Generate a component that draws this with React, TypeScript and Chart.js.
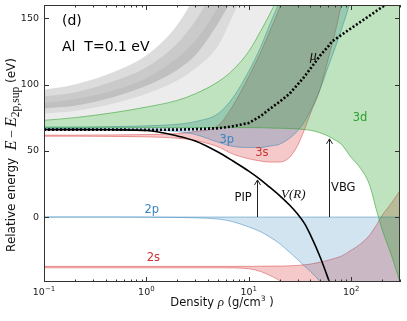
import React, { useEffect, useRef } from "react";
import { Chart, registerables } from "chart.js";

Chart.register(...registerables);

// ---------- data (density grid in g/cm^3, energies in eV) ----------
const RHO = [0.1, 0.2, 0.5, 1, 2, 3, 5, 7, 10, 13, 16, 20, 25, 30, 35, 40, 50, 60, 70, 80, 100, 120, 150, 180, 200, 250, 300];

const S2_LO = [-38.3, -38.3, -38.3, -38.3, -38.3, -38.3, -38.3, -38.4, -39, -41, -44, -48, -55, -62, -69, -76, -88, -100, -110, -120, -135, -150, -165, -180, -190, -205, -220];
const S2_HI = [-37.2, -37.2, -37.2, -37.2, -37.2, -37.2, -37.2, -37.2, -37.2, -37.1, -37, -37, -36.8, -36.5, -36, -35.5, -34, -32.5, -31, -29.5, -25, -21, -14, -5, 1, 11, 20];

const P2_LO = [0, 0, 0, -0.1, -0.3, -0.6, -1.5, -3.5, -7.5, -11, -15, -20, -26.5, -32, -37, -41, -49, -58, -66, -74, -88, -100, -115, -130, -140, -160, -180];
const P2_HI = [0, 0, 0, 0, 0, 0, 0, 0, 0, 0, 0, 0, 0, 0, 0, 0, 0, 0, 0, 0, 0, 0, 0, 0, 0, 0, 0];

const S3_LO = [61, 61, 60.8, 60.5, 59.5, 57.8, 53, 47.5, 44, 42.3, 41.5, 41.5, 45, 54, 66, 78, 97, 120, 140, 160, 195, 230, 270, 300, 320, 360, 400];
const S3_HI = [61.8, 61.8, 62, 62.3, 63, 64.5, 69, 84, 106, 124, 140, 158, 178, 195, 210, 225, 250, 275, 300, 320, 350, 380, 420, 450, 470, 500, 530];

const P3_LO = [66.5, 66.5, 66.4, 66, 64.5, 62.3, 56.5, 53.3, 52.5, 52.5, 53.5, 55, 59.5, 65, 72, 80, 97, 114, 128, 141, 165, 190, 220, 250, 270, 300, 330];
const P3_HI = [68, 68, 68.3, 68.8, 70, 72, 78, 90, 110, 128, 145, 163, 182, 200, 215, 230, 255, 280, 300, 320, 350, 380, 420, 450, 470, 500, 530];

const D3_LO = [67.5, 67.5, 67.5, 67.5, 67.5, 67.5, 67.5, 67.5, 67.5, 67.4, 67.2, 67, 66.8, 66.5, 66, 65.5, 63.5, 61, 58, 55, 45, 38, 25, 3, -9, -30, -49];
const D3_HI = [73, 75, 79, 83, 88, 93, 102, 111, 125, 140, 153, 168, 185, 200, 215, 230, 255, 280, 300, 320, 350, 380, 420, 450, 470, 500, 530];

// higher (grey) bands
const GA = [96, 100, 110, 122, 145, 168, 210, 240, 280, 310, 340, 370, 400, 430, 450, 470, 500, 530, 560, 590, 620, 650, 680, 710, 740, 770, 800];
const GB = [91, 94, 103, 113, 131, 148, 178, 205, 240, 270, 300, 330, 360, 390, 410, 430, 460, 490, 520, 550, 580, 610, 640, 670, 700, 730, 760];
const GC = [86, 89, 96, 105, 120, 133, 158, 178, 205, 230, 255, 280, 310, 340, 360, 380, 410, 440, 470, 500, 530, 560, 590, 620, 650, 680, 710];
const GD = [82, 84, 91, 99, 111, 122, 146, 166, 190, 215, 240, 265, 290, 315, 335, 355, 385, 415, 445, 475, 505, 535, 565, 595, 625, 655, 685];
const GE = [78, 80, 86, 93, 103, 112, 129, 152, 178, 200, 220, 242, 265, 290, 310, 330, 360, 390, 420, 450, 480, 510, 540, 570, 600, 630, 660];

// ion-sphere potential V(R) and chemical potential mu
const V_RHO = [0.1, 0.2, 0.5, 1, 2, 3, 5, 7, 10, 13, 16, 20, 25, 30, 35, 40, 50, 60, 70];
const V_R = [66, 66, 65.8, 65.3, 61.2, 57.4, 49.1, 42.3, 34.7, 28.3, 22.5, 16.2, 9.1, 2.3, -4.8, -13.5, -30.5, -47, -62];
const MU_RHO = [0.1, 0.2, 0.5, 1, 2, 3, 5, 7, 10, 13, 16, 20, 25, 30, 35, 40, 50, 60, 65, 80, 100, 150, 200, 300];
const MU = [66, 66, 66, 65.8, 66, 66.3, 67, 68.5, 71, 76, 81.5, 87, 93, 100, 106, 112, 122, 129, 132.5, 137.3, 142.4, 151.7, 158.4, 167.7];

// axes
const X_MIN = 0.1, X_MAX = 300, Y_MIN = -49, Y_MAX = 160;
const Y_TICKS = [0, 50, 100, 150];
const X_MAJOR = [0.1, 1, 10, 100];
const X_EXP = ["\u22121", "0", "1", "2"];

// arrows
const PIP_RHO = 12, PIP_TOP = 28;
const VBG_RHO = 61, VBG_TOP = 59;

const SANS = '"DejaVu Sans", sans-serif';
const SERIF = '"Liberation Serif", serif';

const RED = "rgba(214,39,40,";
const BLUE = "rgba(31,119,180,";
const GREEN = "rgba(44,160,44,";
const GREY = "rgba(110,110,110,";

const LABELS = [
  { t: "3d", rho: 122, e: 74.5, c: "#2ca02c" },
  { t: "3p", rho: 6.1, e: 58.1, c: "#3a84c0" },
  { t: "3s", rho: 13.4, e: 48.1, c: "#c83232" },
  { t: "2p", rho: 1.13, e: 5.3, c: "#3a84c0" },
  { t: "2s", rho: 1.17, e: -31.1, c: "#c83232" },
  { t: "PIP", rho: 8.8, e: 14.2, c: "#111" },
  { t: "VBG", rho: 83.8, e: 21.7, c: "#111" },
];

function pts(xs: number[], ys: number[]) {
  return xs.map((x, i) => ({ x, y: ys[i] }));
}

function band(lo: number[], hi: number[], edge: string, fillColor: string, order: number, bw = 0.8) {
  const common = {
    borderColor: edge,
    borderWidth: bw,
    backgroundColor: fillColor,
    pointRadius: 0,
    cubicInterpolationMode: "monotone" as const,
    order,
  };
  return [
    { ...common, data: pts(RHO, lo), fill: false },
    { ...common, data: pts(RHO, hi), fill: "-1" },
  ];
}

const overlay = {
  id: "overlay",
  afterDraw(chart: any) {
    const { ctx, chartArea: a, scales } = chart;
    const X = (v: number) => scales.x.getPixelForValue(v);
    const Y = (v: number) => scales.y.getPixelForValue(v);
    ctx.save();

    const arrow = (rho: number, top: number) => {
      const px = Math.round(X(rho)) + 0.5;
      const y0 = Y(0), y1 = Y(top);
      ctx.strokeStyle = "#222";
      ctx.lineWidth = 1;
      ctx.beginPath();
      ctx.moveTo(px, y0);
      ctx.lineTo(px, y1);
      ctx.stroke();
      ctx.beginPath();
      ctx.moveTo(px - 3, y1 + 5);
      ctx.lineTo(px, y1);
      ctx.lineTo(px + 3, y1 + 5);
      ctx.stroke();
    };
    arrow(PIP_RHO, PIP_TOP);
    arrow(VBG_RHO, VBG_TOP);

    ctx.textBaseline = "middle";
    ctx.textAlign = "center";
    for (const L of LABELS) {
      ctx.font = `11.5px ${SANS}`;
      ctx.fillStyle = L.c;
      ctx.fillText(L.t, X(L.rho), Y(L.e));
    }
    ctx.fillStyle = "#111";
    ctx.font = `italic 13px ${SERIF}`;
    ctx.fillText("V(R)", X(27.2), Y(16.6));
    ctx.font = `italic 14px ${SERIF}`;
    ctx.fillText("\u03bc", X(42.7), Y(121.5));

    ctx.textAlign = "left";
    ctx.font = `14px ${SANS}`;
    ctx.fillStyle = "#000";
    ctx.fillText("(d)", a.left + 18, a.top + 16.5);
    ctx.fillText("Al  T=0.1 eV", a.left + 18, a.top + 42.5);

    ctx.strokeStyle = "#333";
    ctx.lineWidth = 1;
    ctx.strokeRect(a.left + 0.5, a.top + 0.5, a.right - a.left - 1, a.bottom - a.top - 1);

    ctx.beginPath();
    for (const v of Y_TICKS) {
      const py = Math.round(Y(v)) + 0.5;
      ctx.moveTo(a.left, py); ctx.lineTo(a.left + 5, py);
      ctx.moveTo(a.right, py); ctx.lineTo(a.right - 5, py);
    }
    for (const v of X_MAJOR) {
      const px = Math.round(X(v)) + 0.5;
      ctx.moveTo(px, a.bottom); ctx.lineTo(px, a.bottom - 5);
      ctx.moveTo(px, a.top); ctx.lineTo(px, a.top + 5);
    }
    for (let d = -1; d <= 2; d++) {
      for (let k = 2; k <= 9; k++) {
        const v = k * Math.pow(10, d);
        if (v > X_MAX) continue;
        const px = Math.round(X(v)) + 0.5;
        ctx.moveTo(px, a.bottom); ctx.lineTo(px, a.bottom - 2.5);
        ctx.moveTo(px, a.top); ctx.lineTo(px, a.top + 2.5);
      }
    }
    ctx.stroke();

    ctx.fillStyle = "#222";
    ctx.font = `9.5px ${SANS}`;
    ctx.textAlign = "right";
    for (const v of Y_TICKS) ctx.fillText(String(v), a.left - 5, Y(v));
    ctx.textAlign = "left";
    X_MAJOR.forEach((v, i) => {
      ctx.font = `9.5px ${SANS}`;
      const w1 = ctx.measureText("10").width;
      ctx.font = `7px ${SANS}`;
      const w2 = ctx.measureText(X_EXP[i]).width;
      const x0 = X(v) - (w1 + w2) / 2;
      const yb = a.bottom + 11;
      ctx.font = `9.5px ${SANS}`;
      ctx.fillText("10", x0, yb);
      ctx.font = `7px ${SANS}`;
      ctx.fillText(X_EXP[i], x0 + w1, yb - 4);
    });

    const drawSegs = (segs: any[], cx: number, cy: number) => {
      let total = 0;
      for (const s of segs) { ctx.font = s.f; total += ctx.measureText(s.t).width; }
      let x = cx - total / 2;
      for (const s of segs) {
        ctx.font = s.f;
        ctx.fillText(s.t, x, cy + s.dy);
        x += ctx.measureText(s.t).width;
      }
    };
    ctx.fillStyle = "#111";
    ctx.textAlign = "left";
    drawSegs([
      { t: "Density ", f: `11.5px ${SANS}`, dy: 0 },
      { t: "\u03c1", f: `italic 13px ${SERIF}`, dy: 0 },
      { t: " (g/cm", f: `11.5px ${SANS}`, dy: 0 },
      { t: "3", f: `7.5px ${SANS}`, dy: -4 },
      { t: " )", f: `11.5px ${SANS}`, dy: 0 },
    ], (a.left + a.right) / 2, 303);

    ctx.save();
    ctx.translate(12, 155);
    ctx.rotate(-Math.PI / 2);
    drawSegs([
      { t: "Relative energy  ", f: `12px ${SANS}`, dy: 0 },
      { t: "E", f: `italic 16px ${SERIF}`, dy: 0 },
      { t: "\u2009\u2212\u2009", f: `14px ${SERIF}`, dy: 0 },
      { t: "E", f: `italic 16px ${SERIF}`, dy: 0 },
      { t: "2p,sup", f: `11.5px ${SERIF}`, dy: 4 },
      { t: " (eV)", f: `12px ${SANS}`, dy: 0 },
    ], 0, 0);
    ctx.restore();

    ctx.restore();
  },
};

function buildDatasets() {
  const ds: any[] = [];
  const none = "rgba(0,0,0,0)";
  ds.push(...band(D3_HI, GE, none, GREY + "0.13)", 20, 0));
  ds.push(...band(GE, GC, none, GREY + "0.25)", 20, 0));
  ds.push(...band(GD, GB, none, GREY + "0.25)", 20, 0));
  ds.push(...band(GC, GA, none, GREY + "0.16)", 20, 0));
  ds.push(...band(GB, GA, none, GREY + "0.10)", 20, 0));
  ds.push(...band(S2_LO, S2_HI, RED + "0.55)", RED + "0.25)", 10));
  ds.push(...band(P2_LO, P2_HI, BLUE + "0.55)", BLUE + "0.2)", 9));
  ds.push(...band(S3_LO, S3_HI, RED + "0.55)", RED + "0.25)", 8));
  ds.push(...band(P3_LO, P3_HI, BLUE + "0.55)", BLUE + "0.25)", 7));
  ds.push(...band(D3_LO, D3_HI, GREEN + "0.7)", GREEN + "0.3)", 6));
  ds.push({
    data: pts(V_RHO, V_R), borderColor: "#000", borderWidth: 1.6, pointRadius: 0, fill: false,
    cubicInterpolationMode: "monotone", order: 1,
  });
  ds.push({
    data: pts(MU_RHO, MU), borderColor: "#000", borderWidth: 2.6, borderDash: [2, 2], pointRadius: 0, fill: false,
    tension: 0, order: 0,
  });
  return ds;
}

export default function App() {
  const ref = useRef<HTMLCanvasElement>(null);
  useEffect(() => {
    const chart = new Chart(ref.current as HTMLCanvasElement, {
      type: "line",
      data: { datasets: buildDatasets() },
      options: {
        animation: false,
        responsive: true,
        maintainAspectRatio: false,
        events: [],
        layout: { padding: { left: 44, right: 7, top: 5, bottom: 39 } },
        scales: {
          x: { type: "logarithmic", min: X_MIN, max: X_MAX, display: false },
          y: { type: "linear", min: Y_MIN, max: Y_MAX, display: false },
        },
        plugins: { legend: { display: false }, tooltip: { enabled: false } },
      } as any,
      plugins: [overlay],
    });
    return () => chart.destroy();
  }, []);
  return (
    <div style={{ position: "fixed", left: 0, top: 0, width: 407, height: 321, background: "#fff" }}>
      <canvas ref={ref} />
    </div>
  );
}
